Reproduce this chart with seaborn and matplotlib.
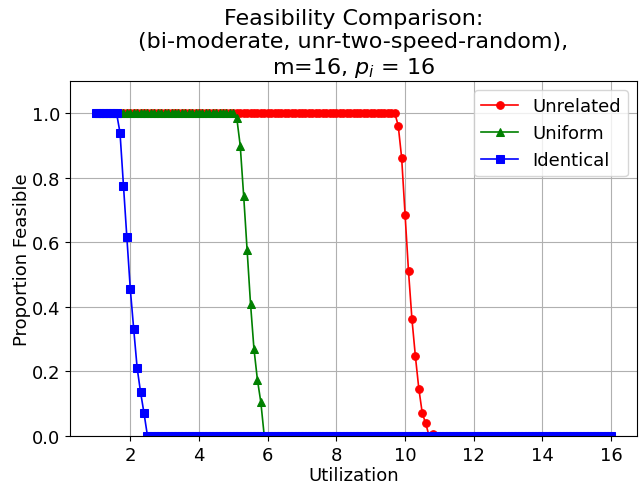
import numpy as np
import pandas as pd
import matplotlib
matplotlib.use('Agg')
import matplotlib.pyplot as plt
import seaborn as sns

# Utilization grid (1.0 to 16.0 in steps of 0.1)
utilization = np.round(np.arange(10, 161) / 10, 1)

# Values in the drop zones; 1.0 before, 0.0 after
identical_start = 1.7
identical_drop = [0.94, 0.775, 0.615, 0.455, 0.33, 0.21, 0.135, 0.07]
uniform_start = 5.1
uniform_drop = [0.985, 0.90, 0.745, 0.575, 0.41, 0.27, 0.175, 0.105]
unrelated_start = 9.8
unrelated_drop = [0.962, 0.862, 0.685, 0.51, 0.362, 0.247, 0.147, 0.071, 0.039, 0.0, 0.005]


def build(start, drop):
    vals = []
    for u in utilization:
        if u < start - 1e-9:
            vals.append(1.0)
        else:
            k = int(round((u - start) * 10))
            vals.append(drop[k] if k < len(drop) else 0.0)
    return vals


df = pd.DataFrame({
    'Utilization': utilization,
    'Unrelated': build(unrelated_start, unrelated_drop),
    'Uniform': build(uniform_start, uniform_drop),
    'Identical': build(identical_start, identical_drop),
})

plt.rcParams['font.size'] = 13
fig, ax = plt.subplots(figsize=(6.44, 4.85), dpi=100)

series = [('Unrelated', 'red', 'o'), ('Uniform', 'green', '^'), ('Identical', 'blue', 's')]
for name, col, mk in series:
    sns.lineplot(data=df, x='Utilization', y=name, color=col, marker=mk,
                 markersize=5.5, markeredgecolor=col, linewidth=1.2, label=name, ax=ax)

ax.set_ylim(0, 1.1)
ax.set_xlabel('Utilization', labelpad=2)
ax.set_ylabel('Proportion Feasible', labelpad=1)
ax.set_title('Feasibility Comparison:\n(bi-moderate, unr-two-speed-random),\nm=16, $p_i$ = 16',
             fontsize=16)
ax.grid(True)
ax.legend(loc='upper right')
fig.subplots_adjust(left=0.109, right=0.989, top=0.831, bottom=0.099)
plt.savefig('out.png')
